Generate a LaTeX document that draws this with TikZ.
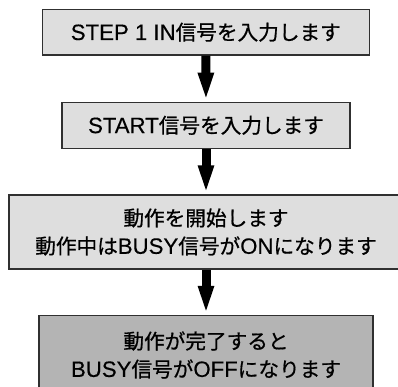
\documentclass[tikz,border=0pt]{standalone}
\usepackage{fontspec}
\setmainfont{Liberation Sans}[FakeBold=0.3]
\newfontfamily\cjk{Noto Sans CJK JP}[Scale=0.93,FakeBold=0.7]
\usetikzlibrary{arrows.meta}
\definecolor{boxlight}{HTML}{DEDEDE}
\definecolor{boxdark}{HTML}{B4B4B4}
\definecolor{edge}{HTML}{303030}
\newcommand{\jp}[1]{{\cjk #1}}
\tikzset{
  stepbox/.style={draw=edge, line width=1.2pt, fill=boxlight, inner sep=0pt,
    align=center, font=\fontsize{22.2pt}{28pt}\selectfont, text=black},
  flowarrow/.style={line width=9pt, -{Triangle[width=14pt,length=29pt]}, black}
}
\begin{document}
\begin{tikzpicture}[x=1pt,y=-1pt]
\clip (0,0) rectangle (398,386);
\fill[white] (0,0) rectangle (398,386);
\node[stepbox, minimum width=327pt, minimum height=45.7pt] (s1) at (205.8,32.2) {STEP 1 IN\jp{信号を入力します}};
\node[stepbox, minimum width=288pt, minimum height=46pt] (s2) at (206,125.3) {START\jp{信号を入力します}};
\node[stepbox, minimum width=394pt, minimum height=74pt] (s3) at (206,232) {\jp{動作を開始します}\\\jp{動作中は}BUSY\jp{信号が}ON\jp{になります}};
\node[stepbox, fill=boxdark, minimum width=334pt, minimum height=79pt] (s4) at (206,355) {\jp{動作が完了すると}\\BUSY\jp{信号が}OFF\jp{になります}};
\draw[flowarrow] (s1.south) -- (s2.north);
\draw[flowarrow] (s2.south) -- (s3.north);
\draw[flowarrow] (s3.south) -- (s4.north);
\end{tikzpicture}
\end{document}
